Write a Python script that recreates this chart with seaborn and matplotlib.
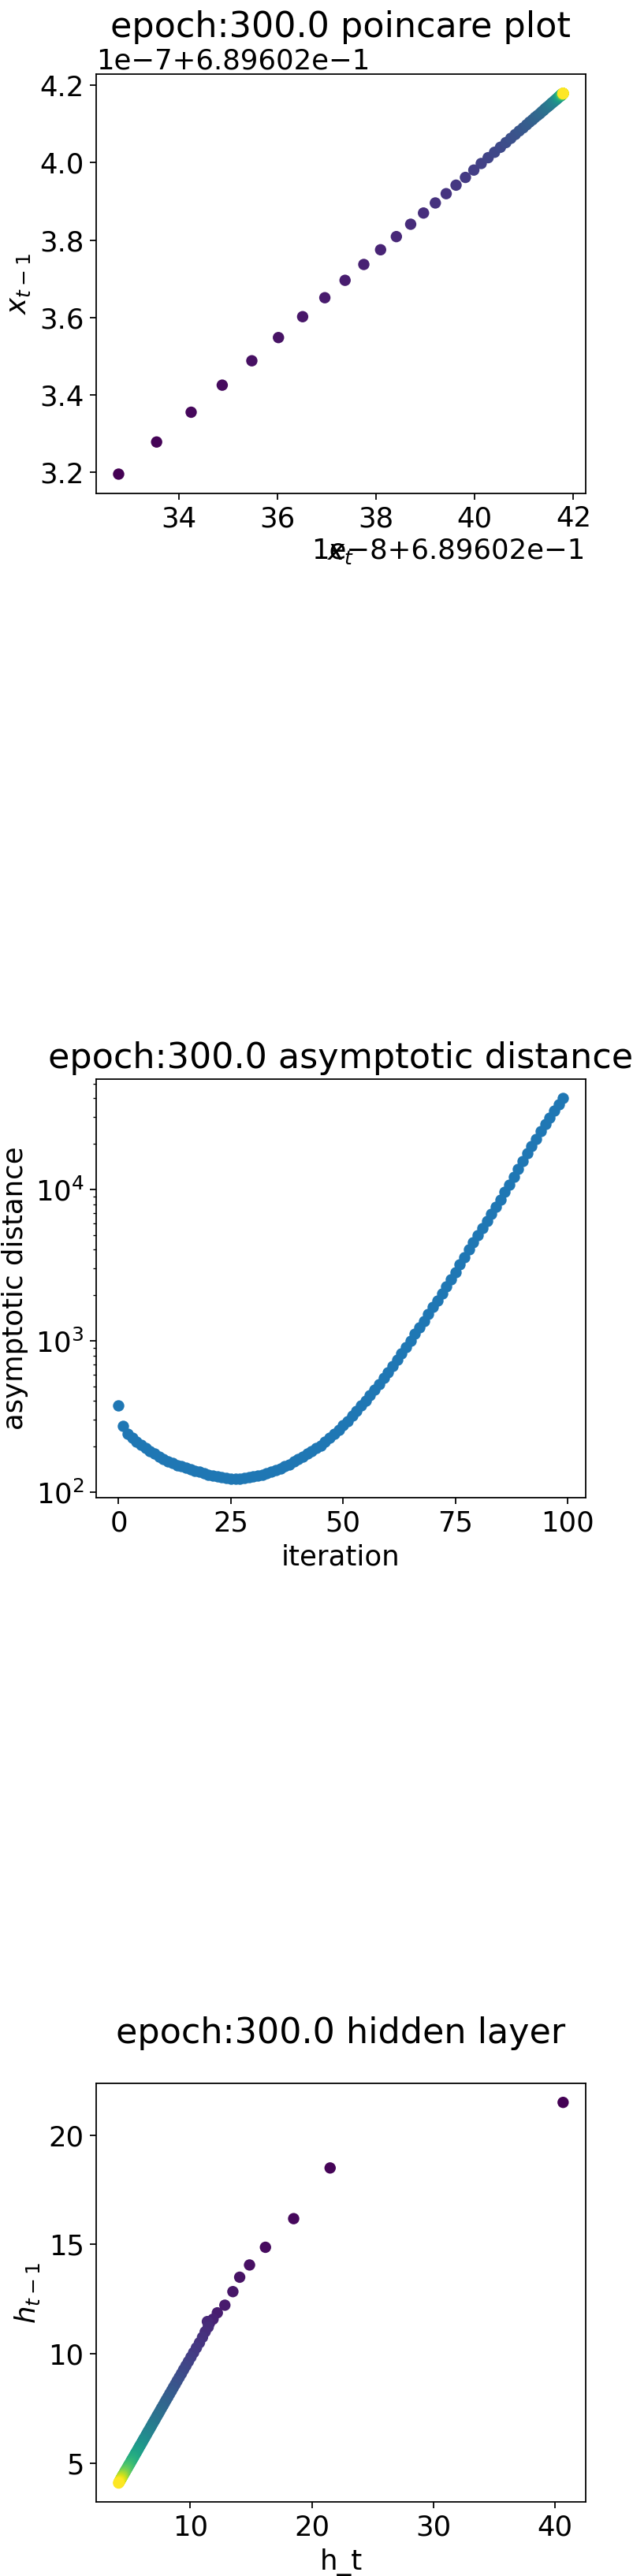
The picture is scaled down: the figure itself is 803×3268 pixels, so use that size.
import numpy as np
import seaborn as sns
import matplotlib.pyplot as plt

# poincare sequence x_t, in units of 1e-8 above 0.689602
poincare_base = 0.689602
poincare_seq = [31.95, 32.78, 33.55, 34.25, 34.88, 35.48, 36.02, 36.51, 36.96, 37.37,
                37.75, 38.09, 38.41, 38.70, 38.96, 39.20, 39.42, 39.62, 39.81, 39.98,
                40.13, 40.27, 40.40, 40.52, 40.63, 40.73, 40.82, 40.90, 40.98, 41.05,
                41.11, 41.17, 41.22, 41.27, 41.32, 41.36, 41.40, 41.43, 41.46, 41.49,
                41.52, 41.54, 41.56, 41.58, 41.60, 41.62, 41.63, 41.65, 41.66, 41.67,
                41.68, 41.69, 41.70, 41.70, 41.71, 41.72, 41.72, 41.73, 41.73, 41.74,
                41.74, 41.75, 41.75, 41.75, 41.76, 41.76, 41.76, 41.76, 41.77, 41.77,
                41.77, 41.77, 41.77, 41.78, 41.78, 41.78, 41.78, 41.78, 41.78, 41.78,
                41.79, 41.79, 41.79, 41.79, 41.79, 41.79, 41.79, 41.79, 41.79, 41.79,
                41.79, 41.79, 41.79, 41.79, 41.79, 41.79, 41.79, 41.79, 41.79, 41.79,
                41.79]

# asymptotic distance per iteration
iterations = list(range(100))
asym_dist = [372, 273, 243, 228, 216, 206, 196, 187, 179, 172,
             166, 160, 155, 151, 148, 145, 142, 139, 136, 134,
             131, 129, 127, 126, 124, 123, 123, 123, 124, 125,
             127, 129, 131, 134, 137, 140, 144, 148, 153, 159,
             165, 172, 179, 187, 195, 204, 216, 229, 243, 259,
             277, 296, 319, 344, 372, 403, 438, 476, 519, 566,
             619, 681, 748, 824, 908, 1002, 1109, 1227, 1358, 1503,
             1667, 1854, 2061, 2296, 2559, 2851, 3192, 3573, 3999, 4477,
             5012, 5572, 6194, 6902, 7674, 8551, 9616, 10814, 12190, 13709,
             15453, 17298, 19364, 21627, 24210, 27101, 29923, 33037, 36475, 40272]

# hidden layer sequence h
hidden_seq = [40.67, 21.50, 18.50, 16.18, 14.87, 14.06, 13.50, 12.84, 12.22, 11.87,
              11.58, 11.40, 11.47, 11.22, 11.00, 10.75, 10.50, 10.27, 10.05, 9.84,
              9.64, 9.45, 9.27, 9.09, 8.92, 8.76, 8.60, 8.45, 8.30, 8.16,
              8.02, 7.89, 7.76, 7.63, 7.51, 7.39, 7.27, 7.16, 7.05, 6.94,
              6.84, 6.74, 6.64, 6.54, 6.45, 6.36, 6.27, 6.18, 6.10, 6.02,
              5.94, 5.86, 5.79, 5.72, 5.65, 5.58, 5.51, 5.45, 5.39, 5.33,
              5.27, 5.21, 5.16, 5.11, 5.06, 5.01, 4.96, 4.92, 4.88, 4.84,
              4.80, 4.76, 4.72, 4.69, 4.66, 4.63, 4.60, 4.57, 4.54, 4.51,
              4.48, 4.46, 4.44, 4.42, 4.40, 4.38, 4.36, 4.34, 4.32, 4.30,
              4.28, 4.26, 4.24, 4.22, 4.20, 4.18, 4.16, 4.14, 4.12, 4.10,
              4.08]

plt.rcParams["xtick.labelsize"] = 16
plt.rcParams["ytick.labelsize"] = 16
plt.rcParams["axes.labelsize"] = 16
plt.rcParams["axes.titlesize"] = 20

fig, axes = plt.subplots(3, 1, figsize=(803 / 160, 3268 / 160), dpi=160)
fig.subplots_adjust(left=0.1523, right=0.9247, top=0.9711, bottom=0.0287, hspace=1.399)

# 1) poincare plot
seq = poincare_base + np.array(poincare_seq) * 1e-8
px, py = seq[1:], seq[:-1]
ax = axes[0]
sns.scatterplot(x=px, y=py, hue=np.arange(len(px)), palette="viridis",
                s=42, linewidth=0, legend=False, ax=ax)
ax.set_title("epoch:300.0 poincare plot")
ax.set_xlabel("$x_t$")
ax.set_ylabel("$x_{t-1}$")

# 2) asymptotic distance
ax = axes[1]
ax.set_yscale("log")
sns.scatterplot(x=iterations, y=asym_dist, color="#1f77b4", s=42, linewidth=0, ax=ax)
ax.set_title("epoch:300.0 asymptotic distance")
ax.set_xlabel("iteration")
ax.set_ylabel("asymptotic distance")

# 3) hidden layer
h = np.array(hidden_seq)
hx, hy = h[:-1], h[1:]
ax = axes[2]
sns.scatterplot(x=hx, y=hy, hue=np.arange(len(hx)), palette="viridis",
                s=42, linewidth=0, legend=False, ax=ax)
ax.set_title("epoch:300.0 hidden layer", pad=23)
ax.set_xlabel("h_t")
ax.set_ylabel("$h_{t-1}$")

fig.savefig("out.png", dpi=160)
